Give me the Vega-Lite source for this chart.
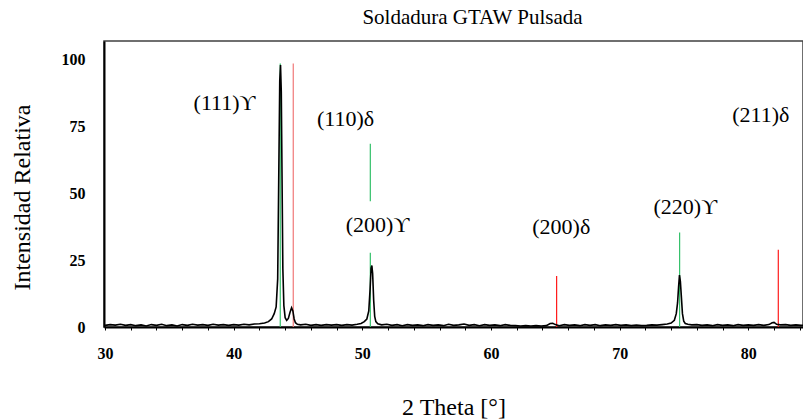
{
  "$schema": "https://vega.github.io/schema/vega-lite/v6.json",
  "width": 699,
  "height": 286,
  "autosize": {"type": "none"},
  "padding": {"left": 104, "top": 41, "right": 0, "bottom": 92},
  "background": "white",
  "config": {"view": {"stroke": "#404040", "strokeWidth": 1.5}, "font": "Liberation Serif"},
  "title": {"text": "Soldadura GTAW Pulsada", "font": "Liberation Serif", "fontSize": 21, "fontWeight": "normal", "color": "black", "anchor": "middle", "dx": 19, "offset": -4, "baseline": "alphabetic"},
  "datasets": {
    "refs": [
      {"theta": 43.62, "y0": 0, "y1": 98.6, "kind": "g"},
      {"theta": 44.63, "y0": 0, "y1": 98.6, "kind": "d110"},
      {"theta": 50.62, "y0": 0, "y1": 27.8, "kind": "g"},
      {"theta": 50.62, "y0": 47, "y1": 68.6, "kind": "g"},
      {"theta": 65.1, "y0": 0, "y1": 19.1, "kind": "d"},
      {"theta": 74.66, "y0": 0, "y1": 35.4, "kind": "g"},
      {"theta": 82.33, "y0": 0, "y1": 28.9, "kind": "d"}
    ],
    "labels": [
      {"theta": 39.29, "y": 83.8, "label": "(111)ϒ"},
      {"theta": 48.69, "y": 77.8, "label": "(110)δ"},
      {"theta": 51.18, "y": 38.2, "label": "(200)ϒ"},
      {"theta": 65.46, "y": 37.4, "label": "(200)δ"},
      {"theta": 75.1, "y": 44.9, "label": "(220)ϒ"},
      {"theta": 80.97, "y": 79.5, "label": "(211)δ"}
    ],
    "pattern": [
      {"theta": 30.0, "intensity": 0.6}, {"theta": 30.4, "intensity": 0.9}, {"theta": 30.8, "intensity": 0.7}, {"theta": 31.2, "intensity": 1.0},
      {"theta": 31.6, "intensity": 0.6}, {"theta": 32.0, "intensity": 0.9}, {"theta": 32.4, "intensity": 0.5}, {"theta": 32.8, "intensity": 0.8},
      {"theta": 33.2, "intensity": 0.4}, {"theta": 33.6, "intensity": 0.9}, {"theta": 34.0, "intensity": 0.6}, {"theta": 34.4, "intensity": 1.0},
      {"theta": 34.8, "intensity": 0.5}, {"theta": 35.2, "intensity": 0.8}, {"theta": 35.6, "intensity": 0.4}, {"theta": 36.0, "intensity": 0.9},
      {"theta": 36.4, "intensity": 0.6}, {"theta": 36.8, "intensity": 1.0}, {"theta": 37.2, "intensity": 0.7}, {"theta": 37.6, "intensity": 0.9},
      {"theta": 38.0, "intensity": 0.6}, {"theta": 38.4, "intensity": 1.0}, {"theta": 38.8, "intensity": 0.7}, {"theta": 39.2, "intensity": 0.9},
      {"theta": 39.6, "intensity": 0.6}, {"theta": 40.0, "intensity": 0.9}, {"theta": 40.4, "intensity": 0.7}, {"theta": 40.8, "intensity": 1.0},
      {"theta": 41.2, "intensity": 0.8}, {"theta": 41.6, "intensity": 1.1}, {"theta": 42.0, "intensity": 1.2}, {"theta": 42.4, "intensity": 1.5},
      {"theta": 42.7, "intensity": 2.0}, {"theta": 42.95, "intensity": 3.0}, {"theta": 43.15, "intensity": 5.0}, {"theta": 43.3, "intensity": 7.5},
      {"theta": 43.42, "intensity": 18}, {"theta": 43.5, "intensity": 55}, {"theta": 43.58, "intensity": 92}, {"theta": 43.64, "intensity": 98},
      {"theta": 43.7, "intensity": 88}, {"theta": 43.76, "intensity": 55}, {"theta": 43.82, "intensity": 22}, {"theta": 43.9, "intensity": 8},
      {"theta": 44.0, "intensity": 3.5}, {"theta": 44.12, "intensity": 2.5}, {"theta": 44.25, "intensity": 3.2}, {"theta": 44.38, "intensity": 5.5},
      {"theta": 44.5, "intensity": 7.2}, {"theta": 44.6, "intensity": 6.0}, {"theta": 44.7, "intensity": 3.0}, {"theta": 44.8, "intensity": 1.6},
      {"theta": 44.95, "intensity": 1.0}, {"theta": 45.2, "intensity": 0.8}, {"theta": 45.6, "intensity": 1.0}, {"theta": 46.0, "intensity": 0.6},
      {"theta": 46.4, "intensity": 0.9}, {"theta": 46.8, "intensity": 0.6}, {"theta": 47.2, "intensity": 0.9}, {"theta": 47.6, "intensity": 0.7},
      {"theta": 48.0, "intensity": 0.9}, {"theta": 48.4, "intensity": 0.6}, {"theta": 48.8, "intensity": 0.9}, {"theta": 49.2, "intensity": 0.7},
      {"theta": 49.6, "intensity": 1.0}, {"theta": 49.9, "intensity": 1.3}, {"theta": 50.15, "intensity": 2.0}, {"theta": 50.35, "intensity": 3.0},
      {"theta": 50.5, "intensity": 6}, {"theta": 50.6, "intensity": 14}, {"theta": 50.68, "intensity": 22}, {"theta": 50.74, "intensity": 23},
      {"theta": 50.8, "intensity": 20}, {"theta": 50.88, "intensity": 10}, {"theta": 50.96, "intensity": 4}, {"theta": 51.05, "intensity": 2},
      {"theta": 51.2, "intensity": 1.2}, {"theta": 51.5, "intensity": 0.8}, {"theta": 51.9, "intensity": 1.0}, {"theta": 52.3, "intensity": 0.6},
      {"theta": 52.7, "intensity": 0.9}, {"theta": 53.1, "intensity": 0.5}, {"theta": 53.5, "intensity": 0.9}, {"theta": 53.9, "intensity": 0.6},
      {"theta": 54.3, "intensity": 0.8}, {"theta": 54.7, "intensity": 0.5}, {"theta": 55.1, "intensity": 0.9}, {"theta": 55.5, "intensity": 0.6},
      {"theta": 55.9, "intensity": 0.8}, {"theta": 56.3, "intensity": 0.5}, {"theta": 56.7, "intensity": 1.0}, {"theta": 57.1, "intensity": 0.6},
      {"theta": 57.5, "intensity": 0.8}, {"theta": 57.9, "intensity": 1.1}, {"theta": 58.3, "intensity": 0.6}, {"theta": 58.7, "intensity": 0.9},
      {"theta": 59.1, "intensity": 0.5}, {"theta": 59.5, "intensity": 0.9}, {"theta": 59.9, "intensity": 0.6}, {"theta": 60.3, "intensity": 0.8},
      {"theta": 60.7, "intensity": 0.5}, {"theta": 61.1, "intensity": 0.9}, {"theta": 61.5, "intensity": 0.6}, {"theta": 61.9, "intensity": 0.5},
      {"theta": 62.3, "intensity": 0.4}, {"theta": 62.7, "intensity": 0.5}, {"theta": 63.1, "intensity": 0.4}, {"theta": 63.5, "intensity": 0.5},
      {"theta": 63.9, "intensity": 0.4}, {"theta": 64.3, "intensity": 0.5}, {"theta": 64.6, "intensity": 1.3}, {"theta": 64.8, "intensity": 1.4},
      {"theta": 65.0, "intensity": 0.9}, {"theta": 65.3, "intensity": 0.5}, {"theta": 65.7, "intensity": 0.9}, {"theta": 66.1, "intensity": 0.6},
      {"theta": 66.5, "intensity": 0.8}, {"theta": 66.9, "intensity": 0.5}, {"theta": 67.3, "intensity": 0.9}, {"theta": 67.7, "intensity": 0.6},
      {"theta": 68.1, "intensity": 0.9}, {"theta": 68.5, "intensity": 0.5}, {"theta": 68.9, "intensity": 0.8}, {"theta": 69.3, "intensity": 0.6},
      {"theta": 69.7, "intensity": 0.9}, {"theta": 70.1, "intensity": 0.6}, {"theta": 70.5, "intensity": 0.8}, {"theta": 70.9, "intensity": 0.5},
      {"theta": 71.3, "intensity": 0.7}, {"theta": 71.7, "intensity": 0.5}, {"theta": 72.1, "intensity": 0.6}, {"theta": 72.5, "intensity": 0.8},
      {"theta": 72.9, "intensity": 0.7}, {"theta": 73.3, "intensity": 0.9}, {"theta": 73.7, "intensity": 1.1}, {"theta": 74.0, "intensity": 1.5},
      {"theta": 74.25, "intensity": 2.5}, {"theta": 74.4, "intensity": 5}, {"theta": 74.5, "intensity": 9}, {"theta": 74.58, "intensity": 15},
      {"theta": 74.65, "intensity": 19.4}, {"theta": 74.72, "intensity": 17}, {"theta": 74.8, "intensity": 11}, {"theta": 74.88, "intensity": 5},
      {"theta": 74.98, "intensity": 2.2}, {"theta": 75.1, "intensity": 1.3}, {"theta": 75.3, "intensity": 1.0}, {"theta": 75.6, "intensity": 0.8},
      {"theta": 76.0, "intensity": 0.9}, {"theta": 76.4, "intensity": 0.6}, {"theta": 76.8, "intensity": 0.8}, {"theta": 77.2, "intensity": 0.5},
      {"theta": 77.6, "intensity": 0.9}, {"theta": 78.0, "intensity": 0.6}, {"theta": 78.4, "intensity": 0.8}, {"theta": 78.8, "intensity": 0.5},
      {"theta": 79.2, "intensity": 0.9}, {"theta": 79.6, "intensity": 0.6}, {"theta": 80.0, "intensity": 0.8}, {"theta": 80.4, "intensity": 0.6},
      {"theta": 80.8, "intensity": 0.9}, {"theta": 81.2, "intensity": 0.6}, {"theta": 81.6, "intensity": 0.9}, {"theta": 81.85, "intensity": 1.6},
      {"theta": 82.0, "intensity": 1.7}, {"theta": 82.2, "intensity": 1.0}, {"theta": 82.5, "intensity": 0.8}, {"theta": 82.9, "intensity": 0.9},
      {"theta": 83.3, "intensity": 0.6}, {"theta": 83.7, "intensity": 0.8}, {"theta": 84.1, "intensity": 0.6}, {"theta": 84.3, "intensity": 0.7}
    ]
  },
  "layer": [
    {
      "data": {"name": "refs"},
      "mark": {"type": "rule"},
      "encoding": {
        "x": {
          "field": "theta", "type": "quantitative",
          "scale": {"domain": [29.92, 84.25], "nice": false, "zero": false},
          "axis": {
            "title": "2 Theta [°]",
            "values": [30, 32, 34, 36, 38, 40, 42, 44, 46, 48, 50, 52, 54, 56, 58, 60, 62, 64, 66, 68, 70, 72, 74, 76, 78, 80, 82, 84],
            "tickCount": 60,
            "labelExpr": "datum.value % 10 === 0 ? datum.label : ''",
            "labelFlush": false, "labelOverlap": false, "labelDx": 3,
            "tickSize": 3, "tickColor": "black", "tickWidth": 1,
            "domainColor": "black", "domainWidth": 2, "grid": false,
            "labelFont": "Liberation Serif", "labelFontSize": 16, "labelFontWeight": "bold", "labelColor": "black", "labelPadding": 15,
            "titleFont": "Liberation Serif", "titleFontSize": 24, "titleFontWeight": "normal", "titleColor": "black",
            "titleY": 80, "titleBaseline": "middle"
          }
        },
        "y": {
          "field": "y0", "type": "quantitative",
          "scale": {"domain": [0, 107], "nice": false},
          "axis": {
            "title": "Intensidad Relativa",
            "values": [0, 25, 50, 75, 100],
            "ticks": false, "grid": false,
            "domainColor": "black", "domainWidth": 2,
            "labelFont": "Liberation Serif", "labelFontSize": 16, "labelFontWeight": "bold", "labelColor": "black", "labelPadding": 19,
            "titleFont": "Liberation Serif", "titleFontSize": 24, "titleFontWeight": "normal", "titleColor": "black",
            "titleX": -82, "titleY": 156, "titleBaseline": "middle", "titleAlign": "center", "titleAngle": -90
          }
        },
        "y2": {"field": "y1"},
        "color": {
          "field": "kind", "type": "nominal",
          "scale": {"domain": ["g", "d", "d110"], "range": ["#34c06a", "#ff1a1a", "#f07878"]},
          "legend": null
        },
        "strokeWidth": {
          "field": "kind", "type": "nominal",
          "scale": {"domain": ["g", "d", "d110"], "range": [1.2, 1.2, 1.8]},
          "legend": null
        }
      }
    },
    {
      "data": {"name": "pattern"},
      "mark": {"type": "line", "color": "black", "strokeWidth": 1.6, "clip": true},
      "encoding": {
        "x": {"field": "theta", "type": "quantitative"},
        "y": {"field": "intensity", "type": "quantitative"}
      }
    },
    {
      "data": {"name": "labels"},
      "mark": {"type": "text", "font": "Liberation Serif", "fontSize": 22, "baseline": "middle", "align": "center", "color": "black"},
      "encoding": {
        "x": {"field": "theta", "type": "quantitative"},
        "y": {"field": "y", "type": "quantitative"},
        "text": {"field": "label"}
      }
    }
  ]
}
